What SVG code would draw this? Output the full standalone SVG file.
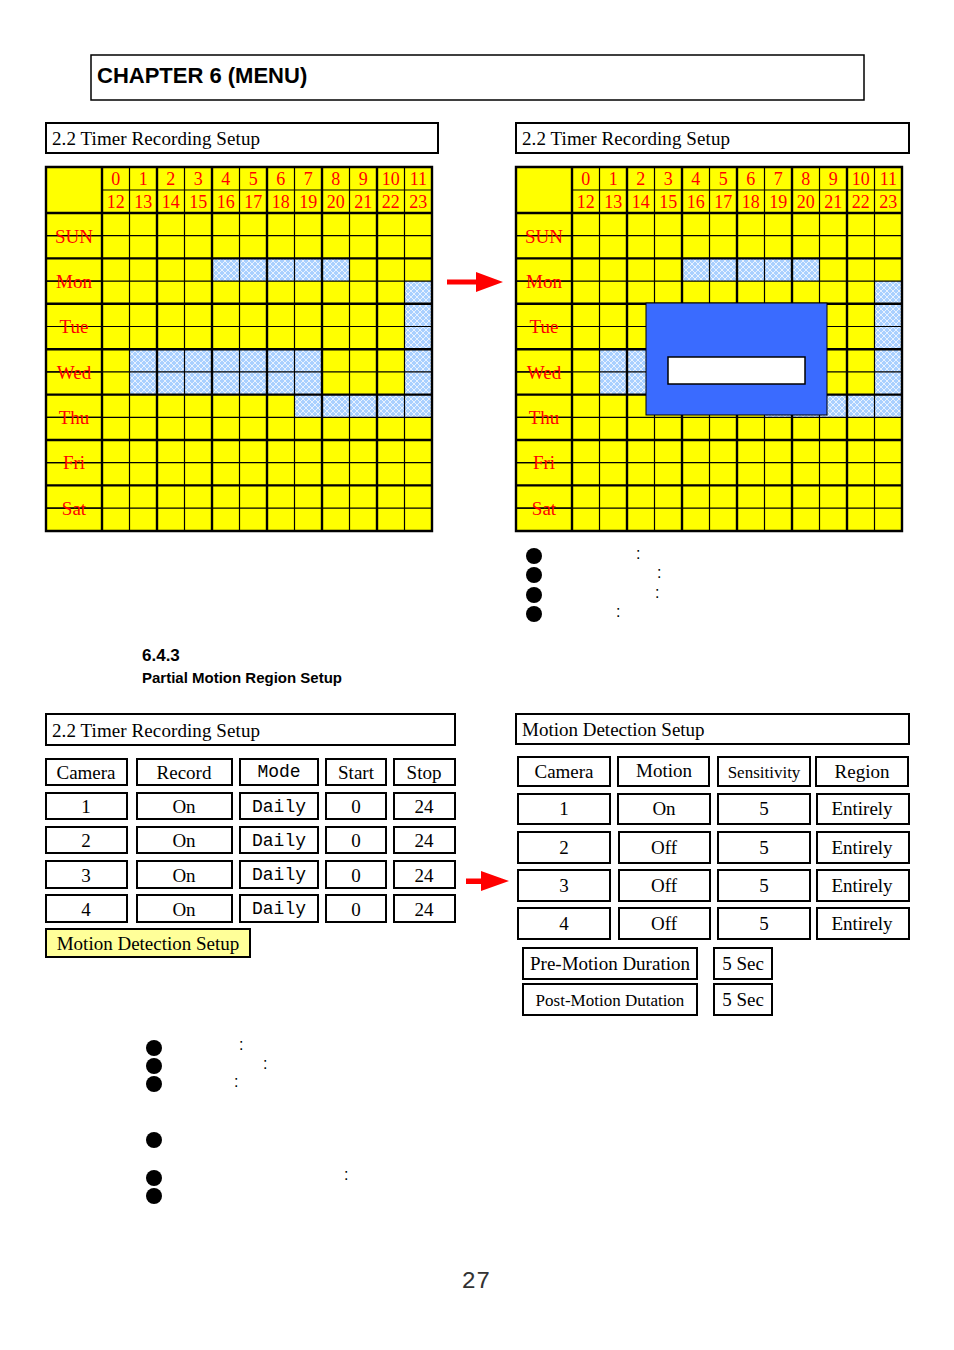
<svg xmlns="http://www.w3.org/2000/svg" xmlns:xlink="http://www.w3.org/1999/xlink" width="954" height="1350" viewBox="0 0 954 1350">
<style>
.bx{fill:#fff;stroke:#000;stroke-width:2}
.t{font-family:"Liberation Serif",serif;font-size:19px;fill:#000}
.c{text-anchor:middle}
.m{font-family:"Liberation Mono",monospace;font-size:18px;fill:#000;text-anchor:middle}
.r{font-family:"Liberation Serif",serif;fill:#f00;text-anchor:middle}
.thin{stroke:#000;stroke-width:1.2;fill:none}
.thk{stroke:#000;stroke-width:2.4;fill:none}
.ar{fill:#f00}
</style>
<defs>
<pattern id="chk" width="6" height="6" patternUnits="userSpaceOnUse">
<rect width="6" height="6" fill="#a9d0ff"/>
<path d="M0 0L6 6M6 0L0 6" stroke="#e8f2ff" stroke-width="1"/>
</pattern>
<g id="grid">
<rect x="46" y="167" width="386" height="364" fill="#ffff00"/>
<g fill="url(#chk)">
<rect x="212" y="258.4" width="137.5" height="22.7"/>
<rect x="404.5" y="281.1" width="27.5" height="113.5"/>
<rect x="129.5" y="349.2" width="192.5" height="45.4"/>
<rect x="294.5" y="394.6" width="137.5" height="22.7"/>
</g>
<path class="thin" d="M129.5 167V531M184.5 167V531M239.5 167V531M294.5 167V531M349.5 167V531M404.5 167V531M102 190H432M46 235.7H432M46 281.1H432M46 326.5H432M46 371.9H432M46 417.3H432M46 462.7H432M46 508.1H432"/>
<path class="thin" d="M46 235.7H102M46 281.1H102M46 326.5H102M46 371.9H102M46 417.3H102M46 462.7H102M46 508.1H102" stroke="#ffff00"/>
<path class="thk" d="M46 167H432V531H46ZM102 167V531M157 167V531M212 167V531M267 167V531M322 167V531M377 167V531M46 213H432M46 258.4H432M46 303.8H432M46 349.2H432M46 394.6H432M46 440H432M46 485.4H432"/>
<g class="r" font-size="19">
<text x="74" y="243">SUN</text><text x="74" y="288">Mon</text><text x="74" y="333">Tue</text><text x="74" y="379">Wed</text><text x="74" y="424">Thu</text><text x="74" y="469">Fri</text><text x="74" y="515">Sat</text>
</g>
<g class="r" font-size="18">
<text x="115.8" y="185">0</text><text x="143.3" y="185">1</text><text x="170.8" y="185">2</text><text x="198.3" y="185">3</text><text x="225.8" y="185">4</text><text x="253.3" y="185">5</text><text x="280.8" y="185">6</text><text x="308.3" y="185">7</text><text x="335.8" y="185">8</text><text x="363.3" y="185">9</text><text x="390.8" y="185">10</text><text x="418.3" y="185">11</text>
<text x="115.8" y="208">12</text><text x="143.3" y="208">13</text><text x="170.8" y="208">14</text><text x="198.3" y="208">15</text><text x="225.8" y="208">16</text><text x="253.3" y="208">17</text><text x="280.8" y="208">18</text><text x="308.3" y="208">19</text><text x="335.8" y="208">20</text><text x="363.3" y="208">21</text><text x="390.8" y="208">22</text><text x="418.3" y="208">23</text>
</g>
</g>
</defs>

<g id="chapter">
<rect x="91" y="55" width="773" height="45" fill="#fff" stroke="#000" stroke-width="1.5"/>
<text x="97" y="83" font-family="Liberation Sans,sans-serif" font-weight="bold" font-size="22">CHAPTER 6 (MENU)</text>
</g>

<g id="timer-left">
<rect class="bx" x="46" y="123" width="392" height="30"/>
<text class="t" x="52" y="145" textLength="208">2.2 Timer Recording Setup</text>
<use xlink:href="#grid"/>
</g>

<g id="timer-right">
<rect class="bx" x="516" y="123" width="393" height="30"/>
<text class="t" x="522" y="145" textLength="208">2.2 Timer Recording Setup</text>
<use xlink:href="#grid" transform="translate(470,0)"/>
<rect x="646" y="303" width="181" height="112" fill="#3a6bff" stroke="#000" stroke-width="1"/>
<rect x="668" y="357" width="137" height="27" fill="#fff" stroke="#000" stroke-width="1.5"/>
</g>

<g id="connectors">
<path class="ar" d="M447 279.5H476V272L503 282L476 292V284.5H447Z"/>
<path class="ar" d="M466 878.5H481V871L509 881L481 891V884H466Z"/>
</g>

<g id="notes-top">
<circle cx="534" cy="556" r="8"/><circle cx="534" cy="575" r="8"/><circle cx="534" cy="595" r="8"/><circle cx="534" cy="614" r="8"/>
<g font-family="Liberation Sans,sans-serif" font-size="16"><text x="636" y="559">:</text><text x="657" y="578">:</text><text x="655" y="598">:</text><text x="616" y="617">:</text></g>
</g>

<g id="section">
<text x="142" y="661" font-family="Liberation Sans,sans-serif" font-weight="bold" font-size="17">6.4.3</text>
<text x="142" y="683" font-family="Liberation Sans,sans-serif" font-weight="bold" font-size="15">Partial Motion Region Setup</text>
</g>

<g id="record-table">
<rect class="bx" x="46" y="714" width="409" height="31"/>
<text class="t" x="52" y="737" textLength="208">2.2 Timer Recording Setup</text>
<g class="bx">
<rect x="46" y="759" width="81" height="26"/><rect x="137" y="759" width="95" height="26"/><rect x="240" y="759" width="78" height="26"/><rect x="326" y="759" width="60" height="26"/><rect x="394" y="759" width="61" height="26"/>
<rect x="46" y="793" width="81" height="26"/><rect x="137" y="793" width="95" height="26"/><rect x="240" y="793" width="78" height="26"/><rect x="326" y="793" width="60" height="26"/><rect x="394" y="793" width="61" height="26"/>
<rect x="46" y="827" width="81" height="26"/><rect x="137" y="827" width="95" height="26"/><rect x="240" y="827" width="78" height="26"/><rect x="326" y="827" width="60" height="26"/><rect x="394" y="827" width="61" height="26"/>
<rect x="46" y="861" width="81" height="27"/><rect x="137" y="861" width="95" height="27"/><rect x="240" y="861" width="78" height="27"/><rect x="326" y="861" width="60" height="27"/><rect x="394" y="861" width="61" height="27"/>
<rect x="46" y="895" width="81" height="27"/><rect x="137" y="895" width="95" height="27"/><rect x="240" y="895" width="78" height="27"/><rect x="326" y="895" width="60" height="27"/><rect x="394" y="895" width="61" height="27"/>
</g>
<g class="t c">
<text x="86" y="779">Camera</text><text x="184" y="779">Record</text><text x="356" y="779">Start</text><text x="424" y="779">Stop</text>
<text x="86" y="813">1</text><text x="184" y="813">On</text><text x="356" y="813">0</text><text x="424" y="813">24</text>
<text x="86" y="847">2</text><text x="184" y="847">On</text><text x="356" y="847">0</text><text x="424" y="847">24</text>
<text x="86" y="882">3</text><text x="184" y="882">On</text><text x="356" y="882">0</text><text x="424" y="882">24</text>
<text x="86" y="916">4</text><text x="184" y="916">On</text><text x="356" y="916">0</text><text x="424" y="916">24</text>
</g>
<g class="m"><text x="279" y="777">Mode</text><text x="279" y="812">Daily</text><text x="279" y="846">Daily</text><text x="279" y="880">Daily</text><text x="279" y="914">Daily</text></g>
<rect x="46" y="929" width="204" height="28" fill="#ffff99" stroke="#000" stroke-width="2"/>
<text class="t" x="148" y="950" text-anchor="middle">Motion Detection Setup</text>
</g>

<g id="motion-table">
<rect class="bx" x="516" y="714" width="393" height="30"/>
<text class="t" x="522" y="736">Motion Detection Setup</text>
<g class="bx">
<rect x="518" y="757" width="92" height="29"/><rect x="618" y="757" width="91" height="29"/><rect x="718" y="757" width="92" height="29"/><rect x="816" y="757" width="92" height="29"/>
<rect x="518" y="794" width="92" height="30"/><rect x="618" y="794" width="92" height="30"/><rect x="718" y="794" width="92" height="30"/><rect x="817" y="794" width="92" height="30"/>
<rect x="518" y="832" width="92" height="31"/><rect x="619" y="832" width="91" height="31"/><rect x="718" y="832" width="92" height="31"/><rect x="817" y="832" width="92" height="31"/>
<rect x="518" y="870" width="92" height="31"/><rect x="619" y="870" width="91" height="31"/><rect x="718" y="870" width="92" height="31"/><rect x="817" y="870" width="92" height="31"/>
<rect x="518" y="908" width="92" height="31"/><rect x="619" y="908" width="91" height="31"/><rect x="718" y="908" width="92" height="31"/><rect x="817" y="908" width="92" height="31"/>
<rect x="523" y="948" width="174" height="31"/><rect x="714" y="948" width="58" height="31"/>
<rect x="523" y="984" width="174" height="31"/><rect x="714" y="984" width="58" height="31"/>
</g>
<g class="t c">
<text x="564" y="778">Camera</text><text x="664" y="777">Motion</text><text x="764" y="778" font-size="17">Sensitivity</text><text x="862" y="778">Region</text>
<text x="564" y="815">1</text><text x="664" y="815">On</text><text x="764" y="815">5</text><text x="862" y="815">Entirely</text>
<text x="564" y="854">2</text><text x="664" y="854">Off</text><text x="764" y="854">5</text><text x="862" y="854">Entirely</text>
<text x="564" y="892">3</text><text x="664" y="892">Off</text><text x="764" y="892">5</text><text x="862" y="892">Entirely</text>
<text x="564" y="930">4</text><text x="664" y="930">Off</text><text x="764" y="930">5</text><text x="862" y="930">Entirely</text>
<text x="610" y="970">Pre-Motion Duration</text><text x="743" y="970">5 Sec</text>
<text x="610" y="1006" font-size="17">Post-Motion Dutation</text><text x="743" y="1006">5 Sec</text>
</g>
</g>

<g id="notes-bottom">
<circle cx="154" cy="1048" r="8"/><circle cx="154" cy="1066" r="8"/><circle cx="154" cy="1084" r="8"/><circle cx="154" cy="1140" r="8"/><circle cx="154" cy="1178" r="8"/><circle cx="154" cy="1196" r="8"/>
<g font-family="Liberation Sans,sans-serif" font-size="16"><text x="239" y="1050">:</text><text x="263" y="1069">:</text><text x="234" y="1087">:</text><text x="344" y="1180">:</text></g>
</g>

<text x="476" y="1288" text-anchor="middle" font-family="Liberation Mono,monospace" font-size="24" fill="#333">27</text>
</svg>
